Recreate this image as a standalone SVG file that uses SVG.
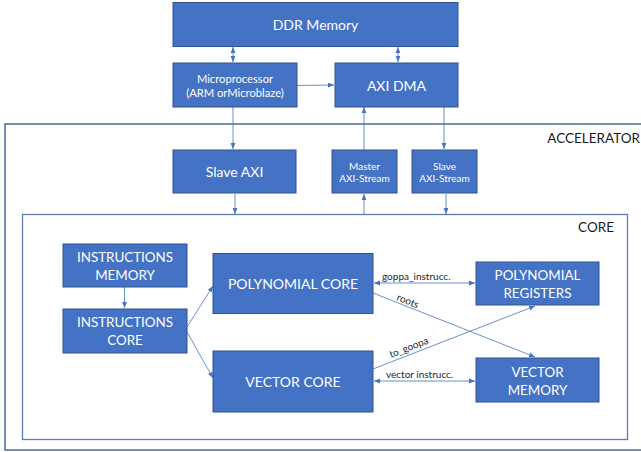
<svg xmlns="http://www.w3.org/2000/svg" width="641" height="452" viewBox="0 0 641 452">
  <defs>
    <marker id="arr" viewBox="0 0 10 10" refX="10" refY="5" markerWidth="6" markerHeight="6" orient="auto-start-reverse" markerUnits="userSpaceOnUse">
      <path d="M0,1 L10,5 L0,9 Z" fill="#4472C4"/>
    </marker>
    <style>
      .box { fill: #4472C4; stroke: #2F528F; stroke-width: 1; }
      .t { font-family: Lato, "Open Sans", "Liberation Sans", sans-serif; fill: #FFFFFF; text-anchor: middle; }
      .big { font-size: 14px; }
      .mid { font-size: 13.4px; }
      .sm { font-size: 11.2px; }
      .xs { font-size: 10px; }
      .lbl { font-family: Lato, "Open Sans", "Liberation Sans", sans-serif; fill: #262626; font-size: 10px; }
      .cap { font-family: Lato, "Open Sans", "Liberation Sans", sans-serif; fill: #1A1A1A; font-size: 13.5px; }
      .frame { fill: none; stroke: #2F528F; stroke-width: 1.3; }
      .inner { fill: none; stroke: #5A7CBB; stroke-width: 1.3; }
      .c { fill: none; stroke: #4472C4; stroke-width: 0.8; }
    </style>
  </defs>
  <rect width="641" height="452" fill="#FFFFFF"/>

  <!-- enclosing blocks -->
  <g id="accelerator">
    <rect class="frame" x="5" y="124" width="650" height="326"/>
    <text class="cap" x="640" y="143" text-anchor="end">ACCELERATOR</text>
  </g>
  <g id="core">
    <rect class="inner" x="22.5" y="214.5" width="605" height="225"/>
    <text class="cap" x="614" y="232" text-anchor="end">CORE</text>
  </g>

  <!-- connectors -->
  <g id="connectors">
    <line class="c" x1="233" y1="47" x2="233" y2="62" marker-start="url(#arr)" marker-end="url(#arr)"/>
    <line class="c" x1="398" y1="47" x2="398" y2="62" marker-start="url(#arr)" marker-end="url(#arr)"/>
    <line class="c" x1="297" y1="85.5" x2="334" y2="85" marker-end="url(#arr)"/>
    <line class="c" x1="233" y1="107" x2="233" y2="149" marker-end="url(#arr)"/>
    <line class="c" x1="364" y1="150" x2="364" y2="107" marker-end="url(#arr)"/>
    <line class="c" x1="444" y1="107" x2="444" y2="149" marker-end="url(#arr)"/>
    <line class="c" x1="235" y1="194" x2="235" y2="214" marker-end="url(#arr)"/>
    <line class="c" x1="364" y1="214" x2="364" y2="194" marker-end="url(#arr)"/>
    <line class="c" x1="446" y1="194" x2="446" y2="214" marker-end="url(#arr)"/>
    <line class="c" x1="124.5" y1="287" x2="124.5" y2="308" marker-end="url(#arr)"/>
    <line class="c" x1="187" y1="327" x2="213" y2="286" marker-end="url(#arr)"/>
    <line class="c" x1="187" y1="332" x2="213" y2="378" marker-end="url(#arr)"/>
    <line class="c" x1="374" y1="283" x2="475" y2="283" marker-start="url(#arr)" marker-end="url(#arr)"/>
    <line class="c" x1="373" y1="293" x2="535" y2="357" marker-end="url(#arr)"/>
    <line class="c" x1="373" y1="369" x2="535" y2="306" marker-end="url(#arr)"/>
    <line class="c" x1="374" y1="381" x2="475" y2="381" marker-start="url(#arr)" marker-end="url(#arr)"/>
    <text class="lbl" x="382" y="280">goppa_instrucc.</text>
    <text class="lbl" x="396" y="300" transform="rotate(21.6 396 300)">roots</text>
    <text class="lbl" x="391" y="358" transform="rotate(-21.3 391 358)">to_goopa</text>
    <text class="lbl" x="386" y="378">vector instrucc.</text>
  </g>

  <!-- nodes -->
  <g id="ddr-memory">
    <rect class="box" x="173" y="2.5" width="285" height="44"/>
    <text class="t big" x="315.5" y="30">DDR Memory</text>
  </g>
  <g id="microprocessor">
    <rect class="box" x="173" y="63" width="124" height="44"/>
    <text class="t sm" x="235" y="83">Microprocessor</text>
    <text class="t sm" x="235" y="97">(ARM orMicroblaze)</text>
  </g>
  <g id="axi-dma">
    <rect class="box" x="335" y="63" width="123" height="44"/>
    <text class="t big" x="396.5" y="91">AXI DMA</text>
  </g>
  <g id="slave-axi">
    <rect class="box" x="173" y="150" width="123" height="43"/>
    <text class="t big" x="234.5" y="177">Slave AXI</text>
  </g>
  <g id="master-axi-stream">
    <rect class="box" x="332" y="150" width="65" height="43"/>
    <text class="t xs" x="364.5" y="169.5">Master</text>
    <text class="t xs" x="364.5" y="181.5">AXI-Stream</text>
  </g>
  <g id="slave-axi-stream">
    <rect class="box" x="412" y="150" width="65" height="43"/>
    <text class="t xs" x="444.5" y="169.5">Slave</text>
    <text class="t xs" x="444.5" y="181.5">AXI-Stream</text>
  </g>
  <g id="instructions-memory">
    <rect class="box" x="63" y="244" width="124" height="43"/>
    <text class="t mid" x="125" y="262">INSTRUCTIONS</text>
    <text class="t mid" x="125" y="280">MEMORY</text>
  </g>
  <g id="instructions-core">
    <rect class="box" x="63" y="309" width="124" height="44"/>
    <text class="t mid" x="125" y="327">INSTRUCTIONS</text>
    <text class="t mid" x="125" y="345">CORE</text>
  </g>
  <g id="polynomial-core">
    <rect class="box" x="213" y="253.5" width="160" height="60"/>
    <text class="t big" x="293" y="289">POLYNOMIAL CORE</text>
  </g>
  <g id="vector-core">
    <rect class="box" x="213" y="351" width="160" height="61"/>
    <text class="t big" x="293" y="387">VECTOR CORE</text>
  </g>
  <g id="polynomial-registers">
    <rect class="box" x="476" y="262" width="123" height="43"/>
    <text class="t mid" x="537.5" y="280">POLYNOMIAL</text>
    <text class="t mid" x="537.5" y="298">REGISTERS</text>
  </g>
  <g id="vector-memory">
    <rect class="box" x="476" y="358" width="123" height="44"/>
    <text class="t mid" x="537.5" y="377">VECTOR</text>
    <text class="t mid" x="537.5" y="395">MEMORY</text>
  </g>
</svg>
